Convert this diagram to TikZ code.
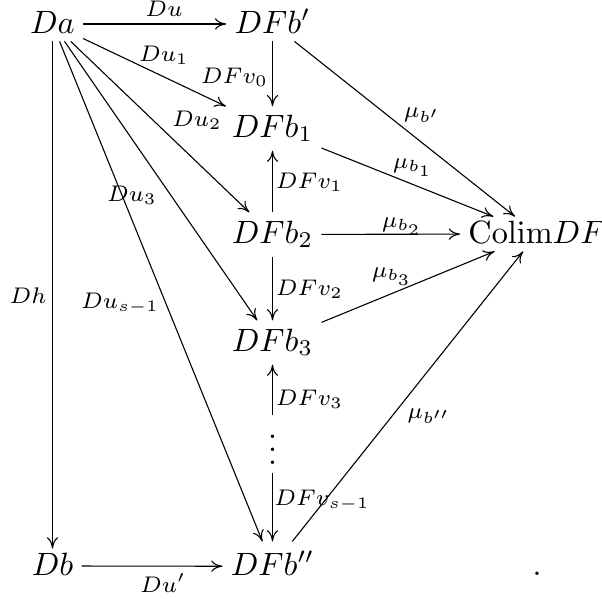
\documentclass[tikz,border=0pt]{standalone}
\usetikzlibrary{arrows.meta}
\begin{document}
\begin{tikzpicture}[x=0.31pt,y=-0.31pt,
  obj/.style={anchor=base,inner xsep=2.4pt,inner ysep=2.4pt,text height=5.6pt,text depth=0pt},
  objsub/.style={obj,text height=6.9pt,text depth=1.6pt},
  objpp/.style={obj,text height=7.8pt,text depth=2.4pt},
  dotsobj/.style={anchor=base,inner xsep=1pt,inner ysep=0pt,text depth=2.5pt},
  lab/.style={anchor=base,inner sep=0pt,font=\scriptsize},
  arr/.style={line width=0.34pt,-{Computer Modern Rightarrow[length=3.5pt,width=3.5pt]}}]
\useasboundingbox (0,0) rectangle (602,598);
% objects
\node[obj] (Da) at (52.5,33) {$Da$};
\node[obj] (DFbp) at (272.5,33) {$DFb'$};
\node[objsub] (DFb1) at (272.5,137) {$DFb_1$};
\node[objsub] (DFb2) at (272.5,243) {$DFb_2$};
\node[obj] (Colim) at (537,243) {$\mathrm{Colim}DF$};
\node[objsub] (DFb3) at (272.5,351) {$DFb_3$};
\node[dotsobj] (dots) at (272.5,464) {$\vdots$};
\node[obj] (Db) at (52.5,575) {$Db$};
\node[objpp] (DFbpp) at (272.5,575) {$DFb''$};
\node[anchor=base,inner sep=0pt] (period) at (537,575) {$.$};
% arrows
\draw[arr] (Da) -- (DFbp);
\draw[arr] (Da) -- (DFb1);
\draw[arr] (Da) -- (DFb2);
\draw[arr] (Da) -- (DFb3);
\draw[arr] (Da) -- (DFbpp);
\draw[arr] (Da) -- (Db);
\draw[arr] (Db) -- (DFbpp);
\draw[arr] (DFbp) -- (DFb1);
\draw[arr] (DFb2) -- (DFb1);
\draw[arr] (DFb2) -- (DFb3);
\draw[arr] (dots) -- (DFb3);
\draw[arr] (dots) -- (DFbpp);
\draw[arr] (DFbp) -- (Colim);
\draw[arr] (DFb1) -- (Colim);
\draw[arr] (DFb2) -- (Colim);
\draw[arr] (DFb3) -- (Colim);
\draw[arr] (DFbpp) -- (Colim);
% labels
\node[lab] (lDu) at (164,16) {$Du$};
\node[lab] (lDu1) at (164,61) {$Du_1$};
\node[lab] (lDu2) at (197,126) {$Du_2$};
\node[lab] (lDu3) at (132,201) {$Du_3$};
\node[lab] (lDus) at (120,308) {$Du_{s-1}$};
\node[lab] (lDh) at (28,303) {$Dh$};
\node[lab] (lDup) at (163,592) {$Du'$};
\node[lab] (lv0) at (234.5,83) {$DFv_0$};
\node[lab] (lv1) at (309.5,188) {$DFv_1$};
\node[lab] (lv2) at (309.5,295) {$DFv_2$};
\node[lab] (lv3) at (309.5,405) {$DFv_3$};
\node[lab] (lvs) at (322,505) {$DFv_{s-1}$};
\node[lab] (lmbp) at (422,117) {$\mu_{b'}$};
\node[lab] (lmb1) at (413,168) {$\mu_{b_1}$};
\node[lab] (lmb2) at (402,227) {$\mu_{b_2}$};
\node[lab] (lmb3) at (392,277) {$\mu_{b_3}$};
\node[lab] (lmbpp) at (429,418) {$\mu_{b''}$};
\end{tikzpicture}
\end{document}
